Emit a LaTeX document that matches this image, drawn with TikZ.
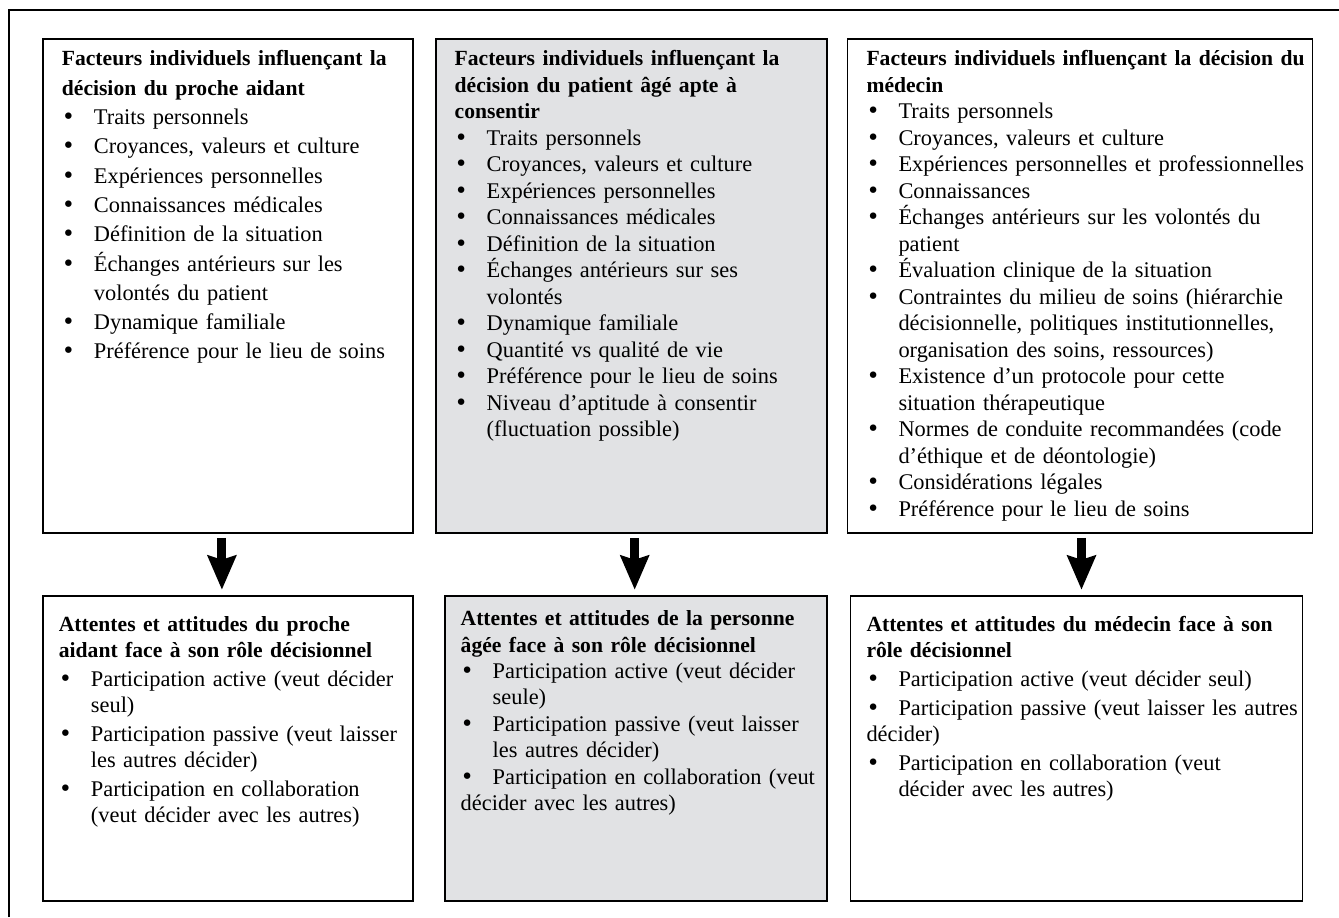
\documentclass[tikz,border=0pt]{standalone}
\usepackage{fontspec}
\setmainfont{Liberation Serif}
\newfontfamily\pucefont{DejaVu Sans}
\usetikzlibrary{positioning, arrows.meta}
\definecolor{grisclair}{RGB}{225,226,228}
\newcommand{\puce}{\makebox[16pt][l]{{\pucefont •}}}
\newcommand{\titre}[1]{{\bfseries\fontsize{10.8}{\baselineskip}\selectfont #1\par}}
\newcommand{\itm}[1]{\hangindent=16pt\hangafter=1\noindent\puce#1\par}
\newcommand{\itmplat}[1]{\noindent\puce#1\par}
\tikzstyle{fleche} = [draw, line width=4.5pt, -{Stealth[length=17pt, width=14pt, inset=2pt]}, shorten <=2pt, shorten >=2.5pt]
\tikzstyle{fact} = [rectangle, draw, line width=0.9pt, inner xsep=2pt, inner ysep=0pt, text height=13.5pt, text depth=233.5pt, font=\fontsize{11.2}{13.25}\selectfont, execute at begin node={\setlength{\leftskip}{7.5pt}\setlength{\rightskip}{0pt plus 1fil}}]
\tikzstyle{att} = [rectangle, draw, line width=0.9pt, inner xsep=2pt, inner ysep=0pt, text height=18pt, text depth=134.5pt, font=\fontsize{11.2}{13}\selectfont, execute at begin node={\setlength{\leftskip}{6pt}\setlength{\rightskip}{0pt plus 1fil}}]
\begin{document}
\begin{tikzpicture}
			\useasboundingbox (0,0) rectangle (669.5pt,-458.5pt);
			\draw [line width=0.9pt] (4.5pt,-458.5pt) -- (4.5pt,-5pt) -- (669.5pt,-5pt);
			
			\node [fact, anchor=north west, text width=181pt, font=\fontsize{11.2}{14.65}\selectfont] (aidant) at (21pt,-19pt) {\titre{Facteurs individuels influençant la\newline décision du proche aidant}
				\itm{Traits personnels}
				\itm{Croyances, valeurs et culture}
				\itm{Expériences personnelles}
				\itm{Connaissances médicales}
				\itm{Définition de la situation}
				\itm{Échanges antérieurs sur les\newline volontés du patient}
				\itm{Dynamique familiale}
				\itm{Préférence pour le lieu de soins}};
			
			\node [fact, fill=grisclair, right=10.5pt of aidant, text width=191.5pt] (patient) {\titre{Facteurs individuels influençant la\newline décision du patient âgé apte à\newline consentir}
				\itm{Traits personnels}
				\itm{Croyances, valeurs et culture}
				\itm{Expériences personnelles}
				\itm{Connaissances médicales}
				\itm{Définition de la situation}
				\itm{Échanges antérieurs sur ses\newline volontés}
				\itm{Dynamique familiale}
				\itm{Quantité vs qualité de vie}
				\itm{Préférence pour le lieu de soins}
				\itm{Niveau d'aptitude à consentir\newline (fluctuation possible)}};
			
			\node [fact, right=9.5pt of patient, text width=228.5pt] (medecin) {\titre{Facteurs individuels influençant la décision du\newline médecin}
				\itm{Traits personnels}
				\itm{Croyances, valeurs et culture}
				\itm{Expériences personnelles et professionnelles}
				\itm{Connaissances}
				\itm{Échanges antérieurs sur les volontés du\newline patient}
				\itm{Évaluation clinique de la situation}
				\itm{Contraintes du milieu de soins (hiérarchie\newline décisionnelle, politiques institutionnelles,\newline organisation des soins, ressources)}
				\itm{Existence d'un protocole pour cette\newline situation thérapeutique}
				\itm{Normes de conduite recommandées (code\newline d'éthique et de déontologie)}
				\itm{Considérations légales}
				\itm{Préférence pour le lieu de soins}};
			
			\node [att, below=30.5pt of aidant, text width=181pt] (att_aidant) {\setlength{\parskip}{1.5pt}\titre{Attentes et attitudes du proche\newline aidant face à son rôle décisionnel}
				\itm{Participation active (veut décider\newline seul)}
				\itm{Participation passive (veut laisser\newline les autres décider)}
				\itm{Participation en collaboration\newline (veut décider avec les autres)}};
			
			\node [att, fill=grisclair, right=15pt of att_aidant, text width=187pt, text height=15pt, text depth=137.5pt, font=\fontsize{11.2}{13.2}\selectfont] (att_patient) {\titre{Attentes et attitudes de la personne\newline âgée face à son rôle décisionnel}
				\itm{Participation active (veut décider\newline seule)}
				\itm{Participation passive (veut laisser\newline les autres décider)}
				\itmplat{Participation en collaboration (veut\newline décider avec les autres)}};
			
			\node [att, right=11pt of att_patient, text width=222pt] (att_medecin) {\setlength{\parskip}{1.5pt}\titre{Attentes et attitudes du médecin face à son\newline rôle décisionnel}
				\itm{Participation active (veut décider seul)}
				\itmplat{Participation passive (veut laisser les autres\newline décider)}
				\itm{Participation en collaboration (veut\newline décider avec les autres)}};
			
			\draw [fleche] ([xshift=-3pt]aidant.south) -- ([xshift=-3pt]aidant.south |- att_aidant.north);
			\draw [fleche] ([xshift=1.75pt]patient.south) -- ([xshift=1.75pt]patient.south |- att_patient.north);
			\draw [fleche] ([xshift=0.75pt]medecin.south) -- ([xshift=0.75pt]medecin.south |- att_medecin.north);
		\end{tikzpicture}
\end{document}
